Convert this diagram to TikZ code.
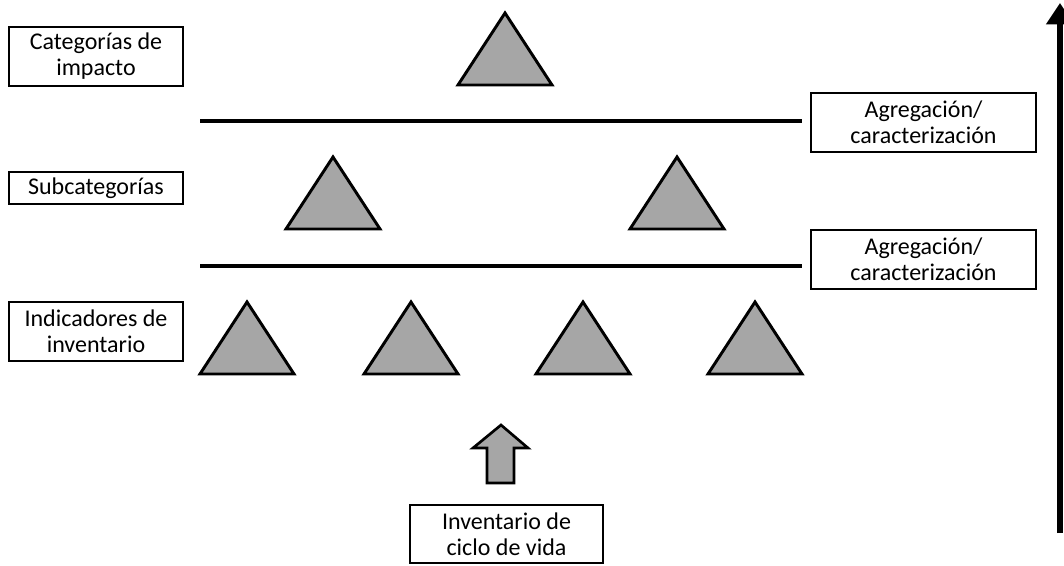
\documentclass[tikz,border=0pt]{standalone}
\usepackage{fontspec}
\setmainfont{Carlito}
\usetikzlibrary{arrows.meta}
\definecolor{trigray}{HTML}{A6A6A6}
\tikzset{
  labelbox/.style={draw=black, line width=1.8pt, align=center, inner sep=0pt,
    font=\fontsize{18}{19.5}\selectfont},
  levelline/.style={line width=3pt},
  tri/.pic={\draw[line width=2.2pt, fill=trigray, line join=miter]
     (0,0) -- (47,72) -- (-47,72) -- cycle;}
}
\begin{document}
\begin{tikzpicture}[x=0.75pt,y=-0.75pt]
\useasboundingbox (0,0) rectangle (1064,566);
% label boxes
\node[labelbox, minimum width=130.5pt, minimum height=44.25pt] (cat) at (96,56.5) {Categorías de\\impacto};
\node[labelbox, minimum width=130.5pt, minimum height=24pt] (sub) at (96,188) {Subcategorías};
\node[labelbox, minimum width=130.5pt, minimum height=44.25pt] (ind) at (96,331.5) {Indicadores de\\inventario};
\node[labelbox, minimum width=168.75pt, minimum height=44.25pt] (agr1) at (923.5,122.5) {Agregación/\\caracterización};
\node[labelbox, minimum width=168.75pt, minimum height=44.25pt] (agr2) at (923.5,259.5) {Agregación/\\caracterización};
\node[labelbox, minimum width=144.75pt, minimum height=43.5pt] (inv) at (506.5,534) {Inventario de\\ciclo de vida};
% level lines
\coordinate (l1a) at (200,121); \coordinate (l1b) at (802,121);
\coordinate (l2a) at (200,266); \coordinate (l2b) at (802,266);
\draw[levelline] (l1a) -- (l1b);
\draw[levelline] (l2a) -- (l2b);
% triangles
\pic at (505,13) {tri};
\pic at (333,157) {tri};
\pic at (677,157) {tri};
\pic at (247,302) {tri};
\pic at (411,302) {tri};
\pic at (583,302) {tri};
\pic at (755,302) {tri};
% block arrow
\draw[line width=2pt, fill=trigray, line join=miter]
  (501,425) -- (528,448) -- (514,448) -- (514,483) -- (487,483) -- (487,448) -- (473,448) -- cycle;
% right vertical arrow
\coordinate (va) at (1060,533); \coordinate (vb) at (1060,3);
\draw[line width=4.5pt, -{Triangle[length=16pt,width=20pt]}] (va) -- (vb);
\end{tikzpicture}
\end{document}
